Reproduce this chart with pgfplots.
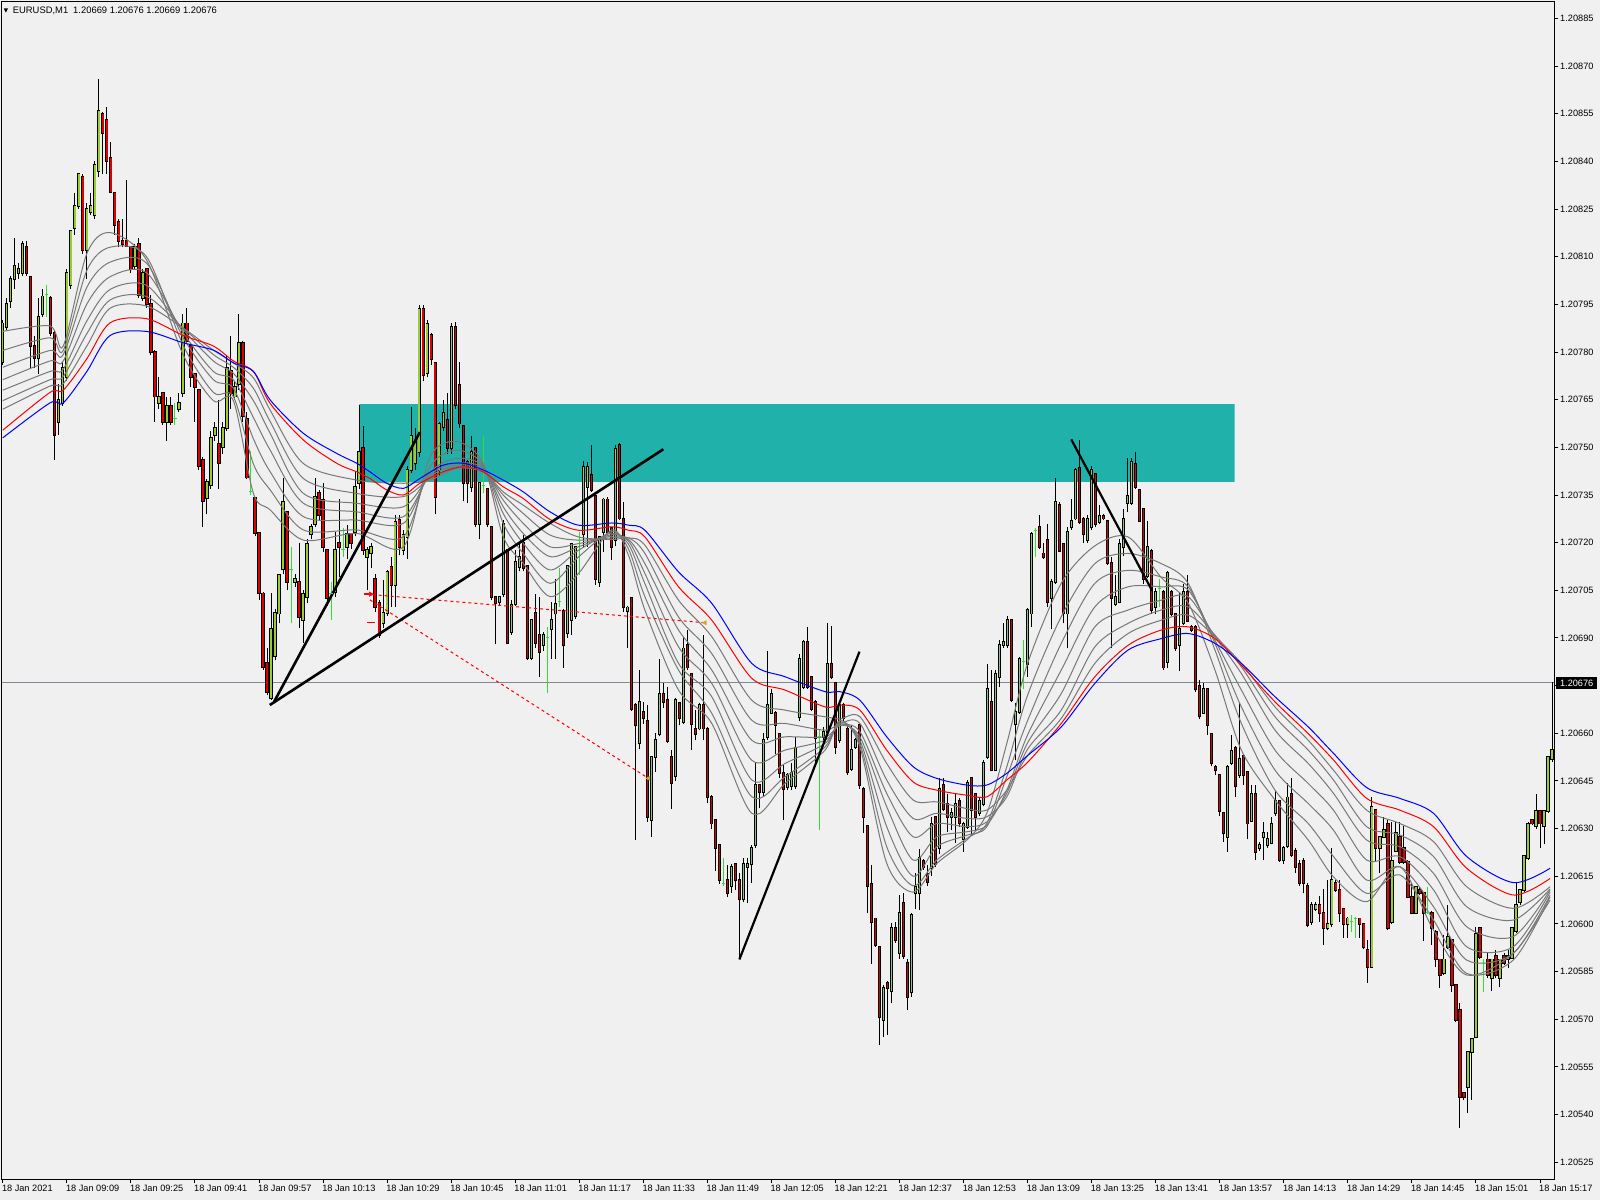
\documentclass[border=0pt]{standalone}
\usepackage{fontspec}
\setmainfont{Liberation Sans}
\usepackage{pgfplots}
\usepackage{pgfplotstable}
\pgfplotsset{compat=1.18}
\definecolor{bgc}{RGB}{240,240,240}
\definecolor{tealc}{RGB}{32,178,170}
\definecolor{bullc}{RGB}{154,205,50}
\definecolor{bearc}{RGB}{220,0,0}
\definecolor{limec}{RGB}{50,220,50}
\definecolor{emag}{RGB}{120,120,120}
\definecolor{pricel}{RGB}{128,136,148}
\definecolor{goldc}{RGB}{218,165,32}

\pgfplotstableread{
i t O H L C
0 1 777 790 776 789
1 1 788 797 787 795
2 1 796 804 794 803
3 1 803 816 800 807
4 1 805 808 803 806
5 1 805 815 804 814
6 -1 813 815 804 805
7 -1 803.5 804 775 782
8 -1 782 785 775 778
9 1 778 797 773 791
10 1 792 800 791 797.5
11 0 798 801 791 798
12 -1 797 797.5 785 786
13 -1 786 787 746 754
14 1 758 770 754 765
15 1 764 777 763 775
16 1 772 806 771 805
17 1 801 818.5 800 818
18 1 819 830 817 826
19 1 826 836.5 825 836
20 -1 835 836 811 812
21 1 812 827 803 825
22 1 824 830 823 826
23 1 823 840 822 839
24 1 837 866 835 856
25 -1 855 855.5 836 849
26 -1 853 857 836 840
27 -1 841 846 830 830.5
28 -1 830 830.5 817 820
29 -1 821 822 813 815
30 -1 815 822 813 814
31 -1 815 834 813 813.5
32 -1 813 813.5 805 806
33 1 807 814 806 813
34 -1 814 816 797 798
35 1 797 806 796 805
36 -1 806 806.5 794 795
37 -1 795 798 779 780
38 -1 780 780.5 758 766
39 1 764 772 762 766
40 -1 767 767.5 757 758
41 1 758 766 752 763
42 -1 763 766 757 758
43 0 759 764 757 759
44 1 762 767 761 764
45 1 767 792 766 789
46 -1 789 794 783 783.5
47 -1 782 783 769 772
48 -1 773 773.5 758 769
49 -1 768 768.5 743 744
50 -1 746 747 725 733
51 1 734 740 729 739
52 1 738 755 737 753
53 1 754 758 752 756
54 -1 751 765 737 745
55 1 750 758 748 756
56 1 756 779 755 775
57 -1 774 785 762 767
58 1 766 771 765 769
59 1 770 792 768 783
60 -1 783 783.5 758 760
61 -1 759 761 740 740.5
62 0 736 749 735 736
63 -1 734 734.5 722 723
64 -1 723 723.5 702 704
65 -1 704 704.5 680 681
66 -1 682 687 672 673
67 1 671 704 670.5 692.7
68 1 684.3 699 683 698
69 1 697.7 710 694.6 709.8
70 1 711.6 740.5 710 732.9
71 -1 729.7 730 705 707.7
72 0 711.6 718.7 694.6 711.6
73 1 707.7 710 706 708.7
74 -1 707.7 719.8 693 696.7
75 1 695.6 705 688.3 703.8
76 1 702.8 721 701 719.6
77 1 722.7 726 721 724.8
78 1 725.8 740.5 725 734.5
79 -1 735.5 736.6 727 728.7
80 -1 733.4 738.7 717 718.5
81 -1 717.7 718 700 702.5
82 0 704 707.7 695.6 704
83 1 704.6 723.5 703 717.7
84 -1 719.8 733.6 709.3 718.5
85 0 717.7 724.5 715.6 717.7
86 1 718.7 725.6 715 722.6
87 -1 722.6 723 718 719.8
88 1 723.4 742.3 722 737.6
89 1 738.7 763.3 737 748.6
90 -1 749.7 756.7 716 717.7
91 1 715.6 718.7 705 717.7
92 1 716.6 720 712 718.5
93 -1 708.7 710 698.3 699.8
94 -1 700.9 702 690 690.9
95 1 694.6 708.2 693 697.9
96 1 697.9 711.5 697 710.9
97 -1 712.4 715.6 699.8 706.7
98 1 706.7 728.7 699.8 726.6
99 -1 727 728.7 716 718.7
100 1 717.7 724 716 722.4
101 1 721.9 744 715 742.9
102 1 742.9 762.8 742 753.7
103 1 745 756 743 752
104 1 748.6 794.8 747 793.7
105 -1 793.7 794.8 771 772.7
106 1 773.5 790 772 788.7
107 -1 785.5 786 776 777.7
108 -1 776.6 777 729 734.5
109 1 742.9 758 741 757.5
110 1 756.5 765 755 760.7
111 -1 758.6 767 748 749.7
112 1 749.7 789 748 788
113 -1 788 789.5 762 763.3
114 -1 769.6 777 756 757.5
115 -1 756.7 757 733 738.7
116 -1 745.5 746 732.4 738.7
117 1 737.6 753.7 736 748.6
118 -1 749.7 750 725 726
119 1 726 739 721 738.7
120 0 737.9 753.7 735.5 737.9
121 -1 736.8 737 725 726
122 -1 724.8 725 702 703
123 -1 702.8 703 688 700.9
124 1 701.4 703 700 702.8
125 1 703.8 727 703 725.8
126 -1 717.7 718 688 688.5
127 1 692 702 691 700.4
128 1 700.7 717.7 700 714
129 1 712.4 719.8 711 715.6
130 -1 719.8 722.4 711 712
131 -1 712.6 713 683 683.6
132 1 683.6 696 683 695.6
133 -1 698 703.8 687 688.5
134 -1 691 703 677.8 685.7
135 1 687.8 692 686 690.9
136 0 690 693.5 672.6 690
137 1 692.7 701.4 683.5 695.6
138 1 697.7 708.7 683.5 700.6
139 0 701.4 711.9 699.8 701.4
140 -1 698.5 699 680.7 687.7
141 1 691.7 713 690 712.6
142 1 695.6 720 690.9 719.7
143 1 696.9 719 696 718.5
144 0 720.8 723.4 709.8 720.8
145 1 722.7 745.6 718.5 743.7
146 1 737.6 745.4 718.7 743.7
147 -1 741.4 750.7 736 736.5
148 -1 734.6 735 706.6 708.7
149 1 707.7 722 706 721.8
150 1 723.4 734 717 733.6
151 -1 733.6 734.5 723 723.4
152 -1 724.6 725 714.5 718.7
153 1 720.8 750.7 719 749.6
154 -1 750.7 751.4 727 727.6
155 -1 727.6 732.9 698.2 699.6
156 1 698.5 700 686.7 699.6
157 -1 702.7 703 667 667.5
158 -1 668.9 669.5 626.4 662.6
159 1 656.8 679.9 655 669.9
160 -1 666.8 670 663 664.7
161 -1 663.9 668.9 632 633.7
162 1 632.7 653 627.4 652.6
163 1 652.6 660 647.9 657.8
164 1 659.7 683.5 659 672.5
165 -1 672.5 675.7 668 669.9
166 -1 670.6 674.6 657 657.6
167 -1 652.6 654.7 636.3 644.4
168 1 646.5 671 645 670.6
169 -1 669.6 670 662.5 664.7
170 1 663.6 690.4 663 686.7
171 -1 687.7 692.5 680 680.7
172 -1 678.6 679 654.7 662.9
173 -1 661.5 667.3 657.8 659.7
174 1 661.5 669.5 661 668.9
175 -1 668.9 690.9 657.8 661.5
176 -1 661.5 662 638 640
177 -1 640 640.5 630 631.6
178 -1 632.6 633 616.8 623.8
179 -1 624.8 625 612.7 613.8
180 0 612.8 620.6 612 612.8
181 -1 613.8 618.5 608.6 609.6
182 1 611.9 619 609.6 617.8
183 -1 618.8 619.1 610.7 613.8
184 -1 613.8 615.9 588.9 607.7
185 1 607.7 620.6 607 618.8
186 1 617.8 620.6 606.7 618.8
187 1 618.8 624.8 612.8 623.8
188 1 624.8 651 624 643.7
189 -1 643.7 644 636.4 641.6
190 1 641.6 660 640 657.8
191 1 658.7 686 658 668.9
192 1 666.5 673.8 666 672.5
193 -1 666.5 667 653.6 662.6
194 -1 659.7 660 646 647.5
195 -1 647.5 650 632.7 642.6
196 1 643.2 647.5 642 646.8
197 1 643.4 650.5 642 647.5
198 1 643.4 658.9 642.5 655.5
199 1 665 685 664 683.5
200 1 674.6 689.3 674 688.6
201 -1 688.6 693.5 674 674.6
202 -1 677.6 678 667 667.5
203 -1 670 670.5 650.5 658.4
204 0 658.9 661 629.5 658.9
205 1 658.9 662 657 660.5
206 1 660.5 694.6 660 681.7
207 -1 681.7 693.7 677 677.6
208 -1 675.7 676 653.6 655.7
209 1 657.8 669.5 657 668.9
210 -1 668.9 669.5 664 664.7
211 -1 661.5 662.6 647 647.7
212 1 648.6 662.6 648 654.7
213 1 655.7 658.5 655 657.8
214 -1 662.6 663 642.6 643.7
215 -1 642.6 643 628.7 633.7
216 -1 630.8 631 603.3 611.9
217 -1 612.7 618.5 587.5 600.7
218 -1 601.7 602 592.8 593.5
219 -1 592.6 593 561.9 570.6
220 1 569.7 580.7 564.5 579.7
221 -1 581.5 582 565 579.7
222 1 579 600.2 575 598.6
223 -1 598.6 600.7 594 594.9
224 1 590.7 609 589 603.5
225 -1 606.6 609.6 589 589.9
226 -1 587.6 588.8 572.9 576.9
227 1 578.6 603.5 577 602.8
228 1 609.6 615.9 604.6 611.7
229 1 609.6 623.7 604.5 620.6
230 -1 619.9 620.5 617 617.8
231 -1 615.7 618.5 612 613.3
232 1 617.5 633.7 615 631.4
233 -1 633.7 634 618 618.8
234 1 623.8 645.8 622 642.6
235 -1 643.7 645.8 635.5 636.3
236 -1 637.7 641 629 633.7
237 1 633.7 636.5 629.5 635
238 1 633.7 641 625.5 637.7
239 -1 638.7 639.5 630.5 631.8
240 1 626.6 632 622.7 631.6
241 1 630.6 645.2 630 644.4
242 -1 645.8 646 628 635.8
243 -1 640.8 641 629.5 633.7
244 1 634.8 639.5 634 638.7
245 1 637.7 651.5 637 650.8
246 1 652.6 681.9 652 673.8
247 -1 669.9 679.9 648 648.4
248 1 648.4 679.9 648 678.6
249 1 677.6 689.3 674.6 687.7
250 1 687.7 694.8 687 688.8
251 1 687.7 696.9 687 695.6
252 -1 695.6 696 670 670.6
253 1 662.8 669.4 651.5 666.6
254 1 666.6 684 666 683.5
255 0 682.7 689.5 673.8 682.7
256 1 681.7 699.5 677.8 698.8
257 1 697.7 723.5 693.5 722.7
258 0 723.9 724.5 715.5 723.9
259 -1 724.8 728.7 718 718.5
260 -1 716.6 720 715 715.5
261 -1 720.8 725.8 699.6 701.4
262 1 702.7 708.7 692.7 707.7
263 1 707.7 740.5 707 732.8
264 -1 731.8 732.8 717 717.4
265 -1 719.7 720 694.6 697.7
266 1 697.7 725 686.7 723.4
267 1 724.8 733.6 724 726.9
268 1 727.6 743.6 727 742.8
269 -1 743.6 752.3 726 726.6
270 -1 727.6 728 720 722.7
271 1 720.8 728.7 720 727.6
272 1 724.8 744 724 742.8
273 -1 741.6 742 725 725.8
274 1 726.6 731.8 726 728.5
275 -1 728.5 729 727 727.6
276 -1 726.9 727 713 713.6
277 -1 713.6 715.5 686.7 702.7
278 1 700.6 709.8 700 702.9
279 1 701.4 721 701 719.7
280 1 718.5 730.7 715.7 727.6
281 1 732.5 746.5 729.7 734.6
282 1 732.5 746.5 732 745.4
283 -1 744.7 748.6 737 737.6
284 -1 736.7 737 726.5 726.9
285 -1 730.7 731 707 708.7
286 1 709.4 726.9 709 718.5
287 -1 717.4 718 697.5 698.8
288 1 699.6 705.6 697.7 704.5
289 0 705.6 708.7 699.8 705.6
290 -1 704.5 705 680 680.7
291 1 682.5 711 680.7 710.5
292 -1 704.5 705 697 697.5
293 -1 697.7 698 686 686.7
294 1 687.7 704.5 679.7 692.7
295 1 694.6 707 694 704.5
296 -1 704.5 709.8 695 695.4
297 -1 693.5 694 692 692.5
298 -1 693.5 694 673 673.8
299 -1 674.8 676.7 664.4 665.4
300 1 666.4 675.7 666 673.8
301 -1 673.8 674 659.4 662.6
302 -1 659.7 660 649.6 650.7
303 -1 649.4 650 646.8 648.4
304 -1 646.8 647 634 635.6
305 -1 634.8 635 625.9 628.5
306 1 627.4 650 622.7 649.4
307 1 650.7 659.4 650 654.5
308 -1 655.5 656 640 643.4
309 1 646.8 669.6 646 651.8
310 -1 652.8 653.6 643.7 646.8
311 -1 647.9 648 626.6 631.6
312 1 632.4 643.7 632 640.8
313 -1 640.8 643.7 620 622.7
314 1 623.8 625.9 623 624.8
315 1 627.4 632.1 620 628.7
316 1 624.8 629 624 626.6
317 1 625.5 633.7 625 631.6
318 1 634.8 641.9 634 638.7
319 -1 638.7 639 619.5 620
320 1 620 624.5 619 623.8
321 1 624.5 644.2 624 639.8
322 -1 640.8 645.8 621 621.7
323 -1 623 624 616 618
324 -1 618.8 620 612 612.8
325 -1 619.8 620.6 609.6 612.8
326 -1 611.9 613 599 599.6
327 1 600.7 607 599.6 605.9
328 1 604.6 607 604 605.9
329 -1 605.9 608.8 600.7 603.5
330 -1 603.5 610.9 593.4 598.6
331 1 598.6 613.8 598 599.9
332 1 599.9 623.8 599 613.8
333 -1 612.8 613.8 610 610.7
334 -1 610.7 613.8 600.7 603.5
335 -1 604.6 605 595.7 599.9
336 1 599.9 602.3 595.7 601.7
337 0 600.7 602.8 597.5 600.7
338 0 601.7 602.3 595.7 601.7
339 -1 601.7 602 595.7 599.9
340 -1 599.9 600 592 592.6
341 -1 591.8 594.9 581.5 586.5
342 1 586.5 640 586 636.7
343 -1 635.8 636 619.6 623.8
344 1 623.8 627.5 616 627.4
345 1 627.4 633.7 627 629.7
346 -1 631.6 632.7 598 598.6
347 1 600.7 632 600 619.8
348 1 623 632 622.5 628.7
349 -1 627.4 632 619 619.6
350 -1 623.8 630.8 619 619.6
351 -1 619.6 620 608 608.6
352 -1 608.6 612.8 603 603.5
353 1 603.5 612 603 611.7
354 -1 610.7 611.7 609 609.6
355 -1 609.6 610 594.7 603.5
356 0 603.5 611.7 603 603.5
357 -1 603.5 604 593.4 598.6
358 -1 597.5 598 586.5 588.8
359 -1 588.8 589 579.7 583.9
360 1 584.6 596.5 584 588.8
361 1 592.6 605.9 592 596
362 -1 594.9 595 578.7 580.8
363 -1 580.8 581 569 569.8
364 -1 572.9 575 535.6 545.6
365 -1 546.7 547 544.6 545.6
366 1 548.8 560 540.6 559.8
367 1 559.8 564 544.6 563.9
368 1 564.5 599 564 596.8
369 -1 598.6 599 589 589.7
370 0 587.6 588.8 578.7 587.6
371 -1 588.8 591.2 583 583.9
372 1 582.9 589 579 588.8
373 -1 589.9 591.8 583 583.9
374 1 582.9 589 580 588.8
375 -1 589.9 590.9 587 587.8
376 1 588.8 591.8 586 589.9
377 1 589.2 599 589 598.6
378 1 597.9 612.8 597 605.9
379 1 607 611 606 610.7
380 1 610.7 621.5 610 621.4
381 1 620.6 632 620 631.6
382 -1 632.7 633 631 631.6
383 1 630.8 640.8 630 635.6
384 -1 635.6 636 623.8 631.6
385 1 630.8 636 625 635.6
386 1 635.6 653 635 652.6
387 1 651.8 676 651 654.7
}\candles

\pgfplotstableread{
i g1 g2 g3 g4 g5 g6 g7
0 786.5 780.5 775.2 771.3 768 764.7 762
11.8 788.2 784.5 780.5 777.2 773.9 771.3 769.3
15.1 781.9 780.5 779.2 777.2 774.6 772.3 770
21 811 805.7 800.4 795.1 789.8 785.8 781.9
26.8 817.6 813 808.3 803.7 799.7 796.4 793.8
35.9 809 810 808 805 801 797.5 794.5
45.1 779 782 784.5 786 787 787.5 787.5
52.6 764.7 767.3 771.3 773.9 777.2 779.2 780.6
57.6 764.7 766 768.6 771.3 773.3 775.2 776.6
62.6 735.5 744.8 752.7 759.4 764.7 768.6 771.9
66.8 730.3 736.6 742.3 749.1 754.4 758.1 761.7
75.1 720.8 724 728.2 732.4 735.5 740.2 744.9
88.4 722.9 724 727.1 729.7 732.4 735.5 739.7
100.1 718.7 721.9 726.1 728.2 731.3 734.5 738.7
106.7 747 743.9 742 741.3 740.8 740.2 739.7
113.4 751.8 749.1 746.5 745 744.4 743.9 743.4
120 745 744.4 743.9 743.4 742.9 742.3 742.3
125 721.9 726.1 729.2 731.3 733.4 735 736
130 713.5 716.6 719.8 722.9 726.1 729.2 731.8
136.7 703 707.2 711.4 715.6 718.7 722.4 726.1
143.8 710.3 715.5 717.6 718.7 719.7 720.8 721.8
152.1 724 723.5 723 722.5 722 721.5 721
156.3 716 718 719.5 720.5 721 721.5 721.5
160.4 698.8 703 707.1 710.3 713.4 716.6 719.2
168.8 673.6 679.9 682 687.2 692.5 696.6 701.9
177.1 663.1 666.3 671.5 675.7 679.9 685.1 690.4
187.1 634.8 640 645.3 651.5 657.8 664.1 670.4
195.4 644.2 646.3 650.5 654.7 658.9 663.1 667.3
205.4 654.7 655.7 656.8 657.8 658.9 661 665.2
209.1 664 663.5 663 662.5 662.5 663 664.5
214.1 655.7 656.8 657.8 658.9 660.5 663.1 665.2
220.8 619.1 624.3 630.6 636.9 641.1 645.3 650.5
227.4 610 612 615 620.1 627.4 633.2 639
233.3 619 620.1 624.3 627.4 631.6 634.8 638.4
240.8 626.4 626.9 627.9 629 630.6 633.2 636.3
245.8 634.8 631.6 630.6 631.1 632.1 633.7 635.8
250.8 656.8 649.5 646.3 642.1 641.1 640 642.1
256 682 672 664 659.5 657 655 653
264.4 707.2 696.7 688.3 679.9 672.5 667.3 664.7
272.8 719 713.4 707.2 699.8 693.5 687.2 682
281.1 721.8 716.6 711.3 706.1 698.8 694.6 691.4
289.4 709 713.4 709.2 706.1 701.9 698.8 695.6
296.1 701 707.2 706.1 705.1 703 699.8 697.2
302.8 679.9 686.2 688.3 689.3 690.4 690.9 690.4
309.4 654.7 663.1 668.3 673.6 678.8 680.9 682
317.8 639 642.1 648.4 654.7 661 665.2 668.3
326.1 626.4 631.6 637.9 644.2 650.5 654.7 657.8
332.4 614.8 621.2 629.5 635.8 641.1 645.3 648.4
340.7 607 609.6 613.8 620.1 626.4 630.6 635.8
349 618 615.4 618 621.2 624.3 628 631.6
357.4 598 601.2 605.4 610.7 615.9 621.2 625.9
365.7 583.9 584.4 588.6 592.8 599.1 605.4 611.7
377.3 590.7 588.6 590.7 592.8 596 601.2 604.9
386.5 607.5 608.5 609 610 610.7 611 611.7
}\grays

\pgfplotstableread{
i b r
0 753 755.4
11.8 764 767.3
15.1 764 768
21 773.9 777.9
26.8 785.2 789.2
35.9 786.5 790.5
45.1 782.9 785.2
52.6 780.6 781.9
57.6 776.6 777.2
62.6 773.9 773.9
66.8 764.9 763.8
75.1 754.4 752.3
83.4 748.1 745
88.4 745 742.3
91.7 742.3 740.2
95.9 738.7 736.6
100.1 737.1 735
104.2 740.2 738.7
110 744.4 742.3
115 745 743.9
120 742.9 742.3
125 739.7 737.6
130 736 733.9
136.7 729.7 727.3
143.8 725.5 723.9
152.1 726.2 725
156.3 725.5 723.9
160.4 723.9 721.8
168.8 710.8 706.1
177.1 700.9 695.6
187.1 682 677.3
195.4 677.8 673.6
205.4 673.1 668.3
209.1 673.1 668.9
214.1 670.4 667.3
220.8 658.9 654.7
227.4 649.5 644.7
233.3 645.8 642.1
240.8 643.7 640.5
245.8 643.7 640
250.8 647.4 645.3
256.1 653.1 651
264.4 662 663.1
272.8 675.7 677.8
281.1 686.2 687.7
289.4 689.8 692.5
296.1 691.4 693.5
302.8 688.3 689.8
309.4 682 681.4
317.8 671.5 669.9
326.1 662 659.9
332.4 653.7 651.6
340.7 642.9 639.5
349 639.5 635.8
357.4 634.8 630.6
365.7 621.2 617.5
377.3 613 609.1
386.5 617.5 614.3
}\emas

\begin{document}
\begin{tikzpicture}
\fill[bgc] (0,0) rectangle (1600pt,1200pt);
\begin{axis}[
  at={(2pt,21pt)}, anchor=south west,
  width=1552pt, height=1178pt, scale only axis,
  xmin=-0.2, xmax=387.5, ymin=519.7, ymax=890.5,
  axis background/.style={fill=bgc},
  axis line style={black, line width=1pt},
  xtick={0,16,...,384},
  xticklabels={18 Jan 2021,18 Jan 09:09,18 Jan 09:25,18 Jan 09:41,18 Jan 09:57,18 Jan 10:13,18 Jan 10:29,18 Jan 10:45,18 Jan 11:01,18 Jan 11:17,18 Jan 11:33,18 Jan 11:49,18 Jan 12:05,18 Jan 12:21,18 Jan 12:37,18 Jan 12:53,18 Jan 13:09,18 Jan 13:25,18 Jan 13:41,18 Jan 13:57,18 Jan 14:13,18 Jan 14:29,18 Jan 14:45,18 Jan 15:01,18 Jan 15:17},
  ytick={525,540,...,885},
  yticklabels={1.20525,1.20540,1.20555,1.20570,1.20585,1.20600,1.20615,1.20630,1.20645,1.20660,1.20675,1.20690,1.20705,1.20720,1.20735,1.20750,1.20765,1.20780,1.20795,1.20810,1.20825,1.20840,1.20855,1.20870,1.20885},
  xtick pos=bottom, ytick pos=right, yticklabel pos=right,
  tick align=outside, major tick length=4pt,
  tick style={black, line width=1pt},
  tick label style={font=\fontsize{9.2}{10}\selectfont},
  xticklabel style={anchor=north west, inner sep=0pt, xshift=-1pt, yshift=-2pt},
  yticklabel style={anchor=west, inner sep=0pt, xshift=2pt},
]
% zone
\addplot[fill=tealc, draw=none, forget plot] coordinates {(89.1,739.1) (307.7,739.1) (307.7,763.6) (89.1,763.6) (89.1,739.1)};
% price line
\addplot[pricel, line width=1pt, forget plot] coordinates {(-0.2,676) (387.5,676)};
% wicks
\addplot[draw=none, forget plot, restrict expr to domain={abs(\thisrow{t})}{0.5:1.5},
  error bars/.cd, y dir=plus, y explicit, error mark=none, error bar style={draw=black, line width=1pt}]
  table[x=i, y=L, y error expr=\thisrow{H}-\thisrow{L}] {\candles};
\addplot[draw=none, forget plot, restrict expr to domain={\thisrow{t}}{-0.5:0.5},
  error bars/.cd, y dir=plus, y explicit, error mark=none, error bar style={draw=limec, line width=1pt}]
  table[x=i, y=L, y error expr=\thisrow{H}-\thisrow{L}] {\candles};
\addplot[only marks, mark=-, mark size=1.6pt, mark options={draw=limec, line width=1pt}, forget plot, restrict expr to domain={\thisrow{t}}{-0.5:0.5}]
  table[x=i, y=O] {\candles};
% body outlines
\addplot[draw=none, forget plot, restrict expr to domain={abs(\thisrow{t})}{0.5:1.5},
  error bars/.cd, y dir=plus, y explicit, error mark=none, error bar style={draw=black, line width=3.2pt}]
  table[x=i, y expr={min(\thisrow{O},\thisrow{C})-0.3}, y error expr={abs(\thisrow{C}-\thisrow{O})+0.6}] {\candles};
% bull bodies
\addplot[draw=none, forget plot, restrict expr to domain={\thisrow{t}}{0.5:1.5},
  error bars/.cd, y dir=plus, y explicit, error mark=none, error bar style={draw=bullc, line width=1.3pt}]
  table[x=i, y=O, y error expr={\thisrow{C}-\thisrow{O}}] {\candles};
% bear bodies
\addplot[draw=none, forget plot, restrict expr to domain={\thisrow{t}}{-1.5:-0.5},
  error bars/.cd, y dir=plus, y explicit, error mark=none, error bar style={draw=bearc, line width=1.3pt}]
  table[x=i, y=C, y error expr={\thisrow{O}-\thisrow{C}}] {\candles};
% moving averages
\foreach \g in {g1,g2,g3,g4,g5,g6,g7}{
  \addplot[emag, line width=1pt, smooth, tension=0.5, forget plot] table[x=i, y=\g] {\grays};
}
\addplot[red, line width=1pt, smooth, tension=0.5, forget plot] table[x=i, y=r] {\emas};
\addplot[blue, line width=1pt, smooth, tension=0.5, forget plot] table[x=i, y=b] {\emas};
% dashed red lines
\addplot[red, line width=1pt, dash pattern=on 3pt off 3pt, forget plot] coordinates {(90.9,703.8) (175.4,694.8)};
\addplot[red, line width=1pt, dash pattern=on 3pt off 3pt, forget plot] coordinates {(91.7,702) (161.3,645.8)};
\addplot[red, line width=1.3pt, forget plot] coordinates {(90.2,703.8) (91.6,703.8)};
\addplot[only marks, mark=triangle*, mark size=2.6pt, mark options={rotate=-90, fill=red, draw=red}, forget plot] coordinates {(91.9,703.8)};
\addplot[red, line width=1.3pt, forget plot] coordinates {(91.1,694.8) (93,694.8)};
\addplot[only marks, mark=triangle*, mark size=2.6pt, mark options={rotate=90, fill=goldc, draw=goldc}, forget plot] coordinates {(175.4,694.8) (161.3,645.8)};
% trend lines
\addplot[black, line width=2.6pt, forget plot] coordinates {(67.8,670) (104.2,754.8)};
\addplot[black, line width=2.6pt, forget plot] coordinates {(66.7,668.9) (165,749.4)};
\addplot[black, line width=2.2pt, forget plot] coordinates {(184,588.8) (214,685.7)};
\addplot[black, line width=2.2pt, forget plot] coordinates {(266.9,752.5) (287.1,704.9)};
\end{axis}
\fill[black] (1556pt,510.5pt) rectangle (1597pt,522.5pt);
\node[text=white, font=\fontsize{9.2}{10}\selectfont, inner sep=0pt] at (1576.7pt,516.5pt) {1.20676};
\node[anchor=base west, inner sep=0pt, font=\fontsize{9.4}{11}\selectfont] at (12.7pt,1186pt) {EURUSD,M1\hspace{5pt}1.20669 1.20676 1.20669 1.20676};
\fill[black] (3.8pt,1191.5pt) -- (8pt,1191.5pt) -- (5.9pt,1187.4pt) -- cycle;
\pgfresetboundingbox
\path[use as bounding box] (0,0) rectangle (1600pt,1200pt);
\end{tikzpicture}
\end{document}
